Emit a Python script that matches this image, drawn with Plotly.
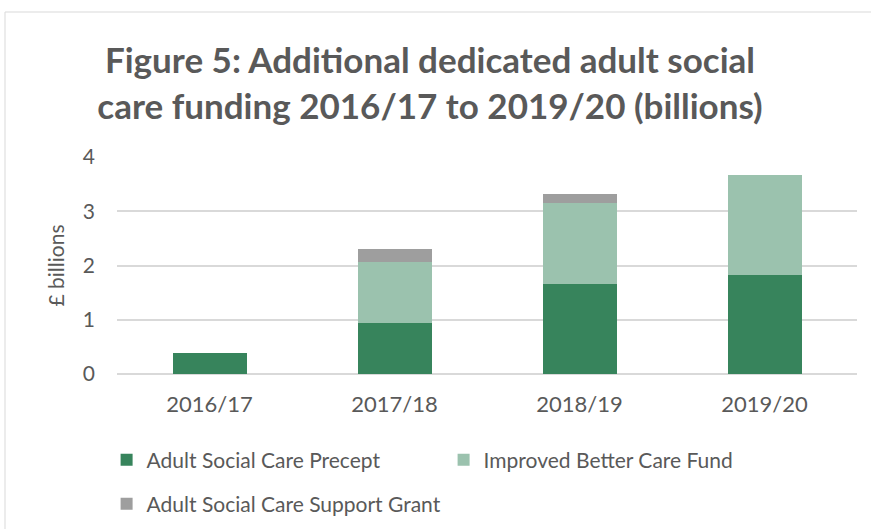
import plotly.graph_objects as go

years = ["2016/17", "2017/18", "2018/19", "2019/20"]
precept = [0.38, 0.94, 1.66, 1.82]
ibcf = [None, 1.12, 1.50, 1.84]
support_grant = [None, 0.24, 0.15, None]

series_names = [
    "Adult Social Care Precept",
    "Improved Better Care Fund",
    "Adult Social Care Support Grant",
]
colors = ["#37845C", "#9BC2AE", "#9E9E9E"]

FONT = "Lato"
TEXT = "#595959"
W, H = 871, 529
L, R, T, B = 117, 14, 157, 155
PW, PH = W - L - R, H - T - B

fig = go.Figure()
for name, vals, col, leg in zip(series_names, [precept, ibcf, support_grant], colors,
                                ["legend", "legend", "legend2"]):
    fig.add_trace(go.Bar(
        x=years, y=vals, name=name, marker=dict(color=col, line=dict(width=0)),
        legend=leg,
    ))

fig.update_layout(
    width=W, height=H,
    margin=dict(l=L, r=R, t=T, b=B, autoexpand=False),
    barmode="stack", bargap=0.6,
    paper_bgcolor="white", plot_bgcolor="white",
    font=dict(family=FONT, size=21, color=TEXT),
    title=dict(
        text="<b>Figure 5: Additional dedicated adult social<br>care funding 2016/17 to 2019/20 (billions)</b>",
        x=430 / W, xanchor="center", y=1 - 73 / H, yanchor="top",
        font=dict(family=FONT, size=35, color=TEXT),
    ),
    xaxis=dict(showline=False, ticks="", tickfont=dict(size=22, color=TEXT),
               ticklabelstandoff=15, automargin=False),
    yaxis=dict(
        range=[0, 4], dtick=1, showgrid=True, gridcolor="#D9D9D9", gridwidth=1.5,
        zeroline=True, zerolinecolor="#D9D9D9", zerolinewidth=1.5,
        tickfont=dict(size=21, color=TEXT), ticklabelstandoff=21, automargin=False,
        title=dict(text="£ billions", font=dict(size=21, color=TEXT), standoff=12),
    ),
    legend=dict(orientation="h", x=-0.01 - 3 / PW, xanchor="left", y=-(460 - T - PH) / PH,
                yanchor="middle", entrywidth=292, entrywidthmode="pixels",
                traceorder="normal", font=dict(size=21, color=TEXT),
                bgcolor="rgba(0,0,0,0)"),
    legend2=dict(orientation="h", x=-0.01 - 3 / PW, xanchor="left", y=-(504 - T - PH) / PH,
                 yanchor="middle", font=dict(size=21, color=TEXT),
                 bgcolor="rgba(0,0,0,0)"),
    shapes=[dict(type="rect", xref="paper", yref="paper",
                 x0=(5 - L) / PW, x1=(W + 5 - L) / PW,
                 y0=-1.0, y1=(T + PH - 12) / PH,
                 line=dict(color="#D9D9D9", width=1), layer="below")],
)

fig.write_html("out.html")
